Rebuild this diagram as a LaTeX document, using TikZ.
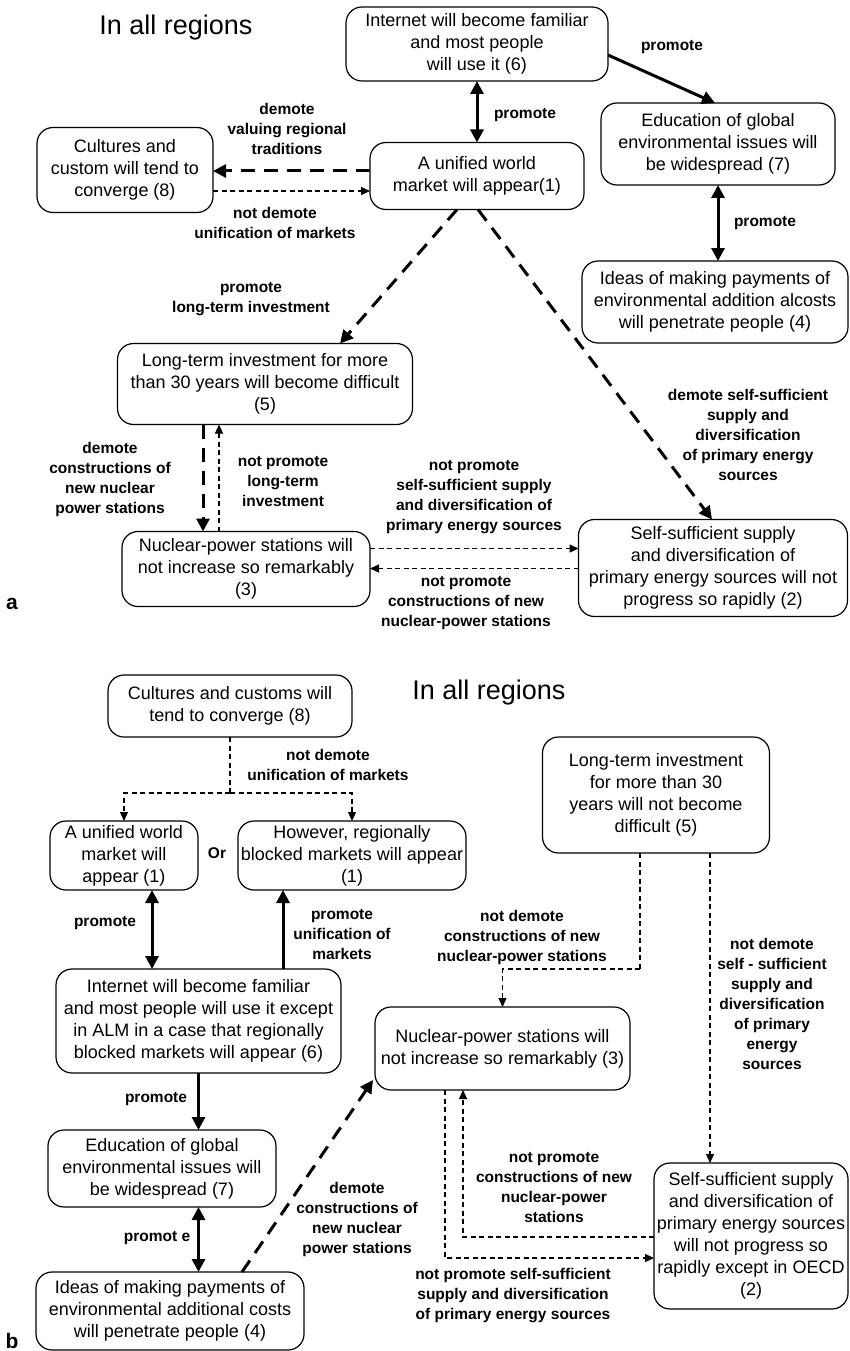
\documentclass[tikz,border=0pt]{standalone}
\usepackage{fontspec}
\setmainfont{Liberation Sans}
\usetikzlibrary{arrows.meta,calc}
\tikzset{
 box/.style={draw, line width=1.2pt, rounded corners=16pt, align=center, inner sep=0pt, outer sep=0pt, font=\fontsize{18}{22}\selectfont},
 lab/.style={align=center, font=\bfseries\fontsize{15.5}{20}\selectfont, inner sep=0pt},
 strong/.style={line width=3pt, -{Triangle[length=13pt,width=13pt]}},
 strongboth/.style={line width=3pt, {Triangle[length=13pt,width=13pt]}-{Triangle[length=13pt,width=13pt]}},
 bigdash/.style={line width=3pt, dash pattern=on 14pt off 9pt, -{Triangle[length=13pt,width=13pt]}},
 thindash/.style={line width=1.1pt, dash pattern=on 5pt off 3.5pt, -{Triangle[length=9pt,width=8pt]}},
 thinline/.style={line width=1.1pt, dash pattern=on 5pt off 3.5pt},
 title/.style={font=\fontsize{27}{30}\selectfont, inner sep=0pt},
 panel/.style={font=\bfseries\fontsize{21}{24}\selectfont, inner sep=0pt},
}
\begin{document}
\begin{tikzpicture}[x=1pt,y=-1pt]
\useasboundingbox (0,0) rectangle (850,1351);
% ---------------- panel a ----------------
\node[title] (ta) at (176,28) {In all regions};
\node[panel] (pa) at (12,604) {a};
\node[box, minimum width=262pt, minimum height=74pt] (a6) at (477,44) {Internet will become familiar\\and most people\\will use it (6)};
\node[box, minimum width=176pt, minimum height=85pt] (a8) at (125,170) {Cultures and\\custom will tend to\\converge (8)};
\node[box, minimum width=214pt, minimum height=67pt] (a1) at (477,176) {A unified world\\market will appear(1)};
\node[box, minimum width=234pt, minimum height=82pt] (a7) at (718,144) {Education of global\\environmental issues will\\be widespread (7)};
\node[box, minimum width=266pt, minimum height=82pt] (a4) at (715,302) {Ideas of making payments of\\environmental addition alcosts\\will penetrate people (4)};
\node[box, minimum width=295pt, minimum height=81pt] (a5) at (265,384) {Long-term investment for more\\than 30 years will become difficult\\(5)};
\node[box, minimum width=248pt, minimum height=75pt] (a3) at (246,569) {Nuclear-power stations will\\not increase so remarkably\\(3)};
\node[box, minimum width=269pt, minimum height=97pt] (a2) at (713,568) {Self-sufficient supply\\and diversification of\\primary energy sources will not\\progress so rapidly (2)};

\draw[strongboth] (a6.south) -- (a1.north);
\node[lab] (la1) at (525,115) {promote};
\draw[strong] ($(a6.east)+(0,11)$) -- ($(a7.north)+(-3,0)$);
\node[lab] (la2) at (672,47) {promote};
\draw[strongboth] (a7.south) -- (a7.south |- a4.north);
\node[lab] (la3) at (765,223) {promote};
\draw[bigdash] ($(a1.west)+(0,-5)$) -- ($(a8.east)+(0,1)$);
\node[lab] (la4) at (287,129) {demote\\valuing regional\\traditions};
\draw[thindash] ($(a8.east)+(0,21)$) -- ($(a1.west)+(0,15)$);
\node[lab] (la5) at (275,223) {not demote\\unification of markets};
\draw[bigdash] ($(a1.south)+(-20,0)$) -- ($(a5.north)+(75,0)$);
\node[lab] (la6) at (251,299) {promote\\long-term investment};
\draw[bigdash] ($(a1.south)+(1,0)$) -- ($(a2.north)+(-1,0)$);
\node[lab] (la7) at (748,435) {demote self-sufficient\\supply and\\diversification\\of primary energy\\sources};
\draw[bigdash] ($(a5.south)+(-62,0)$) -- ($(a3.north)+(-43,0)$);
\node[lab] (la8) at (110,479) {demote\\constructions of\\new nuclear\\power stations};
\draw[thindash] ($(a3.north)+(-27,0)$) -- ($(a5.south)+(-46,0)$);
\node[lab] (la9) at (283,482) {not promote\\long-term\\investment};
\draw[thindash] ($(a3.east)+(0,-20.5)$) -- ($(a2.west)+(0,-19.5)$);
\node[lab] (la10) at (474,497) {not promote\\self-sufficient supply\\and diversification of\\primary energy sources};
\draw[thindash] ($(a2.west)+(0,0.5)$) -- ($(a3.east)+(0,-0.5)$);
\node[lab] (la11) at (466,603) {not promote\\constructions of new\\nuclear-power stations};

% ---------------- panel b ----------------
\node[title] (tb) at (489,693) {In all regions};
\node[panel] (pb) at (12,1341) {b};
\node[box, minimum width=244pt, minimum height=62pt] (b8) at (230,706) {Cultures and customs will\\tend to converge (8)};
\node[box, minimum width=148pt, minimum height=69pt] (b1L) at (124,855.5) {A unified world\\market will\\appear (1)};
\node[lab] (or) at (217,853) {Or};
\node[box, minimum width=228pt, minimum height=69pt] (b1R) at (352,855.5) {However, regionally\\blocked markets will appear\\(1)};
\node[box, minimum width=227pt, minimum height=116pt] (b5) at (656,795) {Long-term investment\\for more than 30\\years will not become\\difficult (5)};
\node[box, minimum width=285pt, minimum height=104pt] (b6) at (198.5,1021) {Internet will become familiar\\and most people will use it except\\in ALM in a case that regionally\\blocked markets will appear (6)};
\node[box, minimum width=255pt, minimum height=83pt] (b3) at (502.5,1048.5) {Nuclear-power stations will\\not increase so remarkably (3)};
\node[box, minimum width=228pt, minimum height=77pt] (b7) at (162,1168.5) {Education of global\\environmental issues will\\be widespread (7)};
\node[box, minimum width=268pt, minimum height=78pt] (b4) at (170,1311) {Ideas of making payments of\\environmental additional costs\\will penetrate people (4)};
\node[box, minimum width=194pt, minimum height=146pt] (b2) at (751,1236) {Self-sufficient supply\\and diversification of\\primary energy sources\\will not progress so\\rapidly except in OECD\\(2)};

\coordinate (pL) at ($(b1L.south)+(28,0)$);
\coordinate (pR) at ($(b1R.south)+(-69,0)$);
\coordinate (p5) at ($(b5.south)+(54,0)$);

\draw[thinline] (b8.south) -- ++(0,56) coordinate (split);
\draw[thindash] (split) -| (b1L.north);
\draw[thindash] (split) -| (b1R.north);
\node[lab] (lb1) at (328,765) {not demote\\unification of markets};
\draw[strongboth] (pL) -- (pL |- b6.north);
\node[lab] (lb2) at (105,923) {promote};
\draw[strong] (pR |- b6.north) -- (pR);
\node[lab] (lb3) at (342,935) {promote\\unification of\\markets};
\draw[thinline] ($(b5.south)+(-16,0)$) -- ++(0,116) coordinate (bend5);
\draw[thindash] (bend5) -| (b3.north);
\node[lab] (lb4) at (522,937) {not demote\\constructions of new\\nuclear-power stations};
\draw[thindash] (p5) -- (p5 |- b2.north);
\node[lab] (lb5) at (772,1004) {not demote\\self - sufficient\\supply and\\diversification\\of primary\\energy\\sources};
\draw[strong] (b6.south) -- (b6.south |- b7.north);
\node[lab] (lb6) at (156,1099) {promote};
\draw[strongboth] (b6.south |- b7.south) -- (b6.south |- b4.north);
\node[lab] (lb7) at (157,1238) {promot e};
\draw[bigdash] ($(b4.north)+(72,0)$) -- ($(b3.south west)+(-2,-10)$);
\node[lab] (lb8) at (357,1219) {demote\\constructions of\\new nuclear\\power stations};
\draw[thindash] ($(b2.west)+(0,1)$) -| ($(b3.south)+(-39.5,0)$);
\node[lab] (lb9) at (554,1188) {not promote\\constructions of new\\nuclear-power\\stations};
\draw[thindash] ($(b3.south)+(-57.5,0)$) |- ($(b2.west)+(0,22)$);
\node[lab] (lb10) at (513,1296) {not promote self-sufficient\\supply and diversification\\of primary energy sources};
\end{tikzpicture}
\end{document}
